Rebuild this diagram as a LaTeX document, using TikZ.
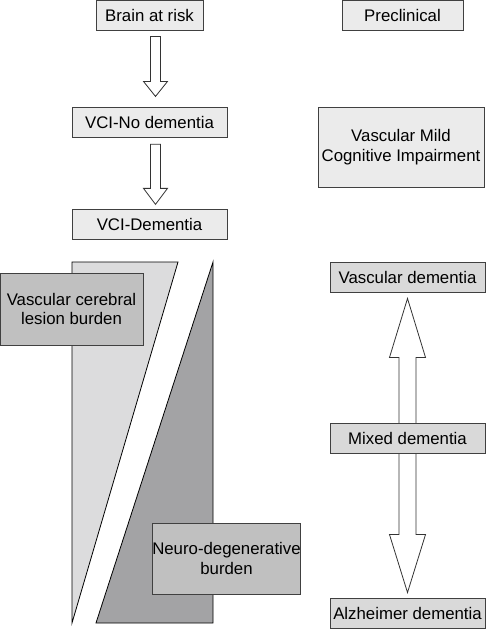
\documentclass[tikz,border=0pt]{standalone}
\usepackage{fontspec}
\setmainfont{Liberation Sans}
\usetikzlibrary{calc,positioning,backgrounds}

\definecolor{paleg}{HTML}{EBEBEB}
\definecolor{midg}{HTML}{D9D9D9}
\definecolor{burdeng}{HTML}{C0C0C0}
\definecolor{lightwedge}{HTML}{DCDCDD}
\definecolor{darkwedge}{HTML}{A3A3A5}

\begin{document}
\begin{tikzpicture}[x=1pt,y=-1pt,
  every node/.style={font=\fontsize{16.8}{19.8}\selectfont,align=center,inner sep=0pt},
  stage/.style={draw=black!75,line width=0.9pt,fill=paleg,minimum width=155pt,minimum height=30pt},
  demtype/.style={stage,fill=midg},
  burden/.style={stage,fill=burdeng,minimum width=143pt,minimum height=72pt},
  hollow/.style={draw=black!80,line width=0.8pt,fill=white,line join=miter}]
\useasboundingbox (0,0) rectangle (497,631);

% wedges
\draw[line width=0.8pt,fill=lightwedge] (72,262) -- (178,262) -- (72,623) -- cycle;
\draw[line width=0.8pt,fill=darkwedge] (213,262) -- (213,623) -- (96,623) -- cycle;

% left column
\node[stage,minimum width=107pt] (brain) at (149.5,15) {Brain at risk};
\node[stage] (vcinod) [below=77pt of brain] {VCI-No dementia};
\node[stage] (vcidem) [below=71pt of vcinod] {VCI-Dementia};

% right column
\node[stage,minimum width=121pt] (preclin) at (402.5,15) {Preclinical};
\node[stage,minimum width=166pt,minimum height=80pt] (vmci) at (401,147) {Vascular Mild\\Cognitive Impairment};
\node[demtype] (vasdem) at (407.5,277) {Vascular dementia};
\node[demtype] (mixdem) at (407.5,438) {Mixed dementia};
\node[demtype] (alzdem) at (407.5,613) {Alzheimer dementia};

% burdens
\node[burden] (vasbur) at (71.5,309) {Vascular cerebral\\lesion burden};
\node[burden,minimum height=71pt] (neubur) at (226.5,558.5) {Neuro-degenerative\\burden};

\begin{scope}[on background layer]
\coordinate (a1s) at ($(brain.south)+(6,6)$);
\coordinate (a1e) at ($(vcinod.north)+(6,-11)$);
\draw[hollow] ($(a1s)+(-5,0)$) -- ($(a1e)+(-5,-15)$) -- ($(a1e)+(-12,-15)$) -- (a1e)
  -- ($(a1e)+(12,-15)$) -- ($(a1e)+(5,-15)$) -- ($(a1s)+(5,0)$) -- cycle;
\coordinate (a2s) at ($(vcinod.south)+(6,6)$);
\coordinate (a2e) at ($(vcidem.north)+(6,-5)$);
\draw[hollow] ($(a2s)+(-5,0)$) -- ($(a2e)+(-5,-16)$) -- ($(a2e)+(-12,-16)$) -- (a2e)
  -- ($(a2e)+(12,-16)$) -- ($(a2e)+(5,-16)$) -- ($(a2s)+(5,0)$) -- cycle;
% double arrow through mixed dementia
\coordinate (up) at ($(vasdem.south)+(0,6)$);
\coordinate (dn) at ($(alzdem.north)+(0,-5)$);
\draw[hollow] (up) -- ($(up)+(18,59)$) -- ($(up)+(8.5,59)$) -- ($(dn)+(8.5,-58)$)
  -- ($(dn)+(18,-58)$) -- (dn) -- ($(dn)+(-18,-58)$) -- ($(dn)+(-8.5,-58)$)
  -- ($(up)+(-8.5,59)$) -- ($(up)+(-18,59)$) -- cycle;
\end{scope}

\end{tikzpicture}
\end{document}
